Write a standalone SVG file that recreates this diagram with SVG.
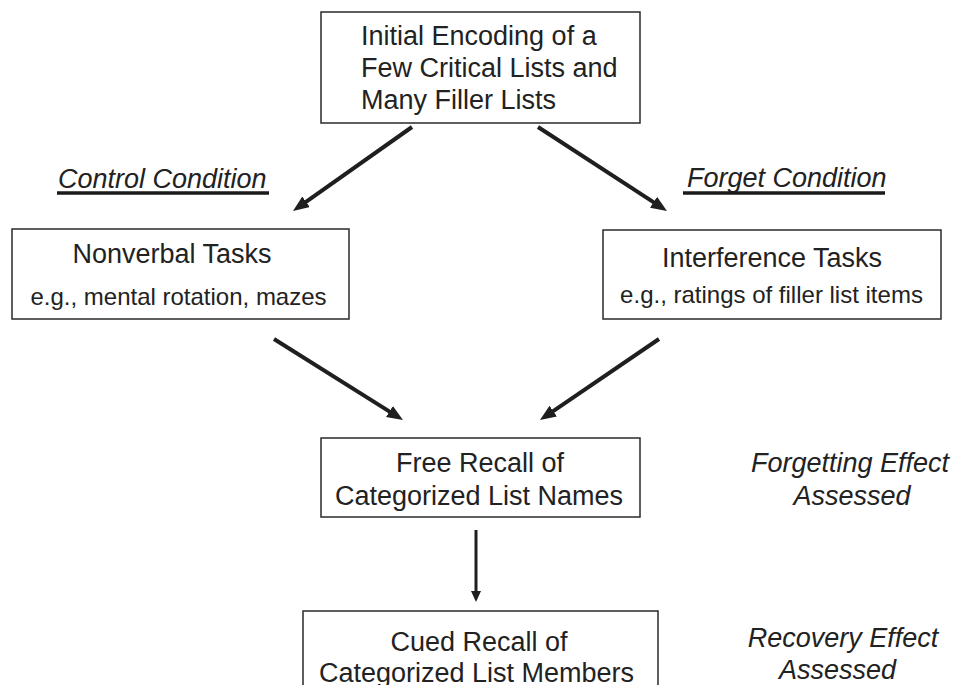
<svg xmlns="http://www.w3.org/2000/svg" width="953" height="685" viewBox="0 0 953 685">
  <style>
    .box { fill: #ffffff; stroke: #2a2a2a; stroke-width: 1.5; }
    .t { font-family: "Liberation Sans", Arial, sans-serif; font-size: 27px; fill: #222222; }
    .s { font-family: "Liberation Sans", Arial, sans-serif; font-size: 24px; fill: #222222; }
    .i { font-family: "Liberation Sans", Arial, sans-serif; font-size: 27px; font-style: italic; fill: #222222; }
    .ul { stroke: #1a1a1a; stroke-width: 3.5; }
    .conn { stroke: #1f1f1f; stroke-width: 4; fill: none; }
    .conn2 { stroke: #1f1f1f; stroke-width: 3; fill: none; }
  </style>
  <defs>
    <marker id="ah" markerUnits="userSpaceOnUse" markerWidth="16" markerHeight="13" refX="4" refY="6.5" orient="auto">
      <path d="M0,0 L16,6.5 L0,13 z" fill="#1f1f1f"/>
    </marker>
    <marker id="ahs" markerUnits="userSpaceOnUse" markerWidth="11" markerHeight="10" refX="3" refY="5" orient="auto">
      <path d="M0,0 L11,5 L0,10 z" fill="#1f1f1f"/>
    </marker>
  </defs>
  <rect width="953" height="685" fill="#ffffff"/>

  <g id="connectors">
    <line class="conn" x1="412" y1="127" x2="302.8" y2="204.1" marker-end="url(#ah)"/>
    <line class="conn" x1="538" y1="127" x2="656.9" y2="204.4" marker-end="url(#ah)"/>
    <line class="conn" x1="274" y1="339" x2="392.8" y2="413.6" marker-end="url(#ah)"/>
    <line class="conn" x1="659" y1="339" x2="549.9" y2="413.3" marker-end="url(#ah)"/>
    <line class="conn2" x1="476" y1="530" x2="476" y2="594" marker-end="url(#ahs)"/>
  </g>

  <g id="initial-encoding">
    <rect class="box" x="321" y="12" width="319" height="111"/>
    <text class="t" x="361" y="45">Initial Encoding of a</text>
    <text class="t" x="361" y="77">Few Critical Lists and</text>
    <text class="t" x="361" y="109">Many Filler Lists</text>
  </g>

  <g id="control-condition">
    <text class="i" x="58" y="188">Control Condition</text>
    <line class="ul" x1="57" y1="193" x2="269" y2="193"/>
  </g>

  <g id="forget-condition">
    <text class="i" x="687" y="187">Forget Condition</text>
    <line class="ul" x1="683" y1="193" x2="885" y2="193"/>
  </g>

  <g id="nonverbal-tasks">
    <rect class="box" x="12" y="229" width="337" height="90"/>
    <text class="t" x="172" y="263" text-anchor="middle">Nonverbal Tasks</text>
    <text class="s" x="178.5" y="305" text-anchor="middle">e.g., mental rotation, mazes</text>
  </g>

  <g id="interference-tasks">
    <rect class="box" x="603" y="230" width="338" height="89"/>
    <text class="t" x="772" y="267" text-anchor="middle">Interference Tasks</text>
    <text class="s" x="771.5" y="303" text-anchor="middle">e.g., ratings of filler list items</text>
  </g>

  <g id="free-recall">
    <rect class="box" x="321" y="438" width="319" height="79"/>
    <text class="t" x="480" y="472" text-anchor="middle">Free Recall of</text>
    <text class="t" x="479" y="505" text-anchor="middle">Categorized List Names</text>
  </g>

  <g id="forgetting-effect">
    <text class="i" x="850" y="472" text-anchor="middle">Forgetting Effect</text>
    <text class="i" x="852" y="505" text-anchor="middle">Assessed</text>
  </g>

  <g id="cued-recall">
    <rect class="box" x="303" y="611" width="355" height="90"/>
    <text class="t" x="479" y="651" text-anchor="middle">Cued Recall of</text>
    <text class="t" x="476.5" y="682" text-anchor="middle">Categorized List Members</text>
  </g>

  <g id="recovery-effect">
    <text class="i" x="843" y="647" text-anchor="middle">Recovery Effect</text>
    <text class="i" x="837.5" y="679" text-anchor="middle">Assessed</text>
  </g>
</svg>
